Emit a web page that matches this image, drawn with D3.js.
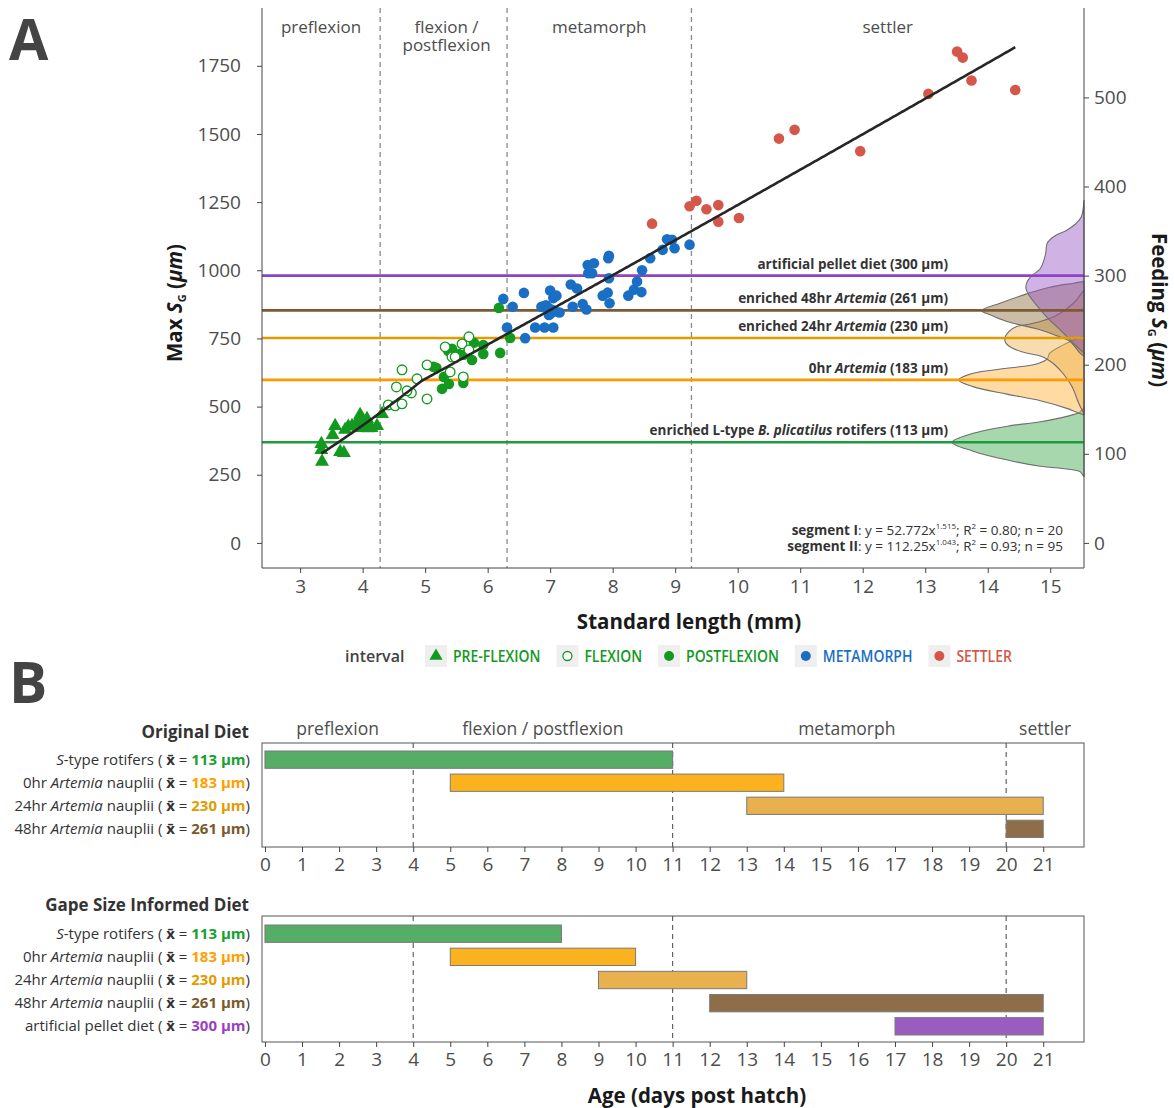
<!DOCTYPE html>
<html>
<head>
<meta charset="utf-8">
<script src="https://cdn.jsdelivr.net/npm/d3@7"></script>
<style>
  body { margin: 0; background: #fff; }
  svg { display: block; }
  text { font-family: "Open Sans", "Noto Sans", sans-serif; }
</style>
</head>
<body>
<svg id="fig" width="1174" height="1108"></svg>
<script>
// ---------------- Panel A: standard length (mm) vs. max gape size (µm) ----------------
const preflexion = [
  [3.34,363],[3.34,341],[3.35,298],[3.52,396],[3.56,429],[3.64,334],[3.70,330],[3.72,415],
  [3.77,427],[3.83,429],[3.90,440],[3.93,422],[3.96,470],[3.99,448],[4.02,429],[4.07,455],
  [4.09,421],[4.14,422],[4.23,429],[4.31,473]
];
const flexion = [
  [4.41,506],[4.52,503],[4.63,510],[4.54,572],[4.63,635],[4.78,550],[4.71,558],[4.87,602],
  [5.03,528],[5.03,653],[5.32,719],[5.40,627],[5.43,682],[5.48,682],[5.59,730],[5.70,756],
  [5.70,708],[5.61,609]
];
const postflexion = [
  [5.13,646],[5.18,642],[5.27,565],[5.30,609],[5.38,583],[5.61,587],[5.37,704],[5.43,712],
  [5.54,693],[5.62,690],[5.75,671],[5.78,734],[5.93,693],[5.93,726],[6.20,697],[6.18,862],
  [6.36,752]
];
const metamorph = [
  [6.25,895],[6.40,866],[6.58,917],[6.31,790],[6.60,751],[6.76,790],[6.91,790],[7.05,790],
  [6.86,866],[6.94,871],[7.00,926],[7.05,898],[7.10,907],[7.00,840],[7.08,849],[7.15,845],
  [6.92,871],[6.97,862],[7.03,855],[6.98,836],[7.33,948],[7.43,933],[7.36,866],[7.52,876],
  [7.58,856],[7.60,1019],[7.70,1026],[7.61,989],[7.67,989],[7.93,1044],[7.94,1053],[7.94,971],
  [7.84,907],[7.92,918],[7.95,879],[8.25,907],[8.34,929],[8.39,959],[8.46,920],[8.47,1000],
  [8.60,1044],[8.80,1075],[8.87,1114],[8.95,1112],[8.99,1081],[9.23,1094]
];
const settler = [
  [13.51,1802],[13.60,1780],[13.74,1696],[14.44,1661],[13.05,1647],[10.66,1483],[10.91,1515],
  [11.96,1437],[9.23,1235],[9.34,1255],[9.50,1224],[9.69,1239],[9.69,1178],[10.02,1192],[8.63,1171]
];

// Stage boundaries along standard length (mm) and their names
const stageBreaksMM = [4.28, 6.31, 9.26];
const stageNamesA = [["preflexion"], ["flexion /", "postflexion"], ["metamorph"], ["settler"]];

// Piecewise power-law fit: y = a * x^b
const fitA = [52.772, 112.25];
const fitB = [1.515, 1.043];
const fitRangeMM = [3.34, 14.44];

// Axis ticks
const xTicksA = d3.range(3, 16);
const yTicksA = [0, 250, 500, 750, 1000, 1250, 1500, 1750];
const yTicksR = [0, 100, 200, 300, 400, 500];
const feedToGape = 0.306;   // feeding gape = 0.306 * max gape

// Prey items (mean size, µm)
const feedMean = [113, 183, 230, 261, 300];
const feedLine = ["#1f9a3f", "#ff9900", "#e39b00", "#7d5a2f", "#8d43c2"];
const feedFill = ["#3aa64a", "#ffad33", "#eeb14e", "#8c6a3f", "#9a55c4"];
const feedBar  = ["#55ad66", "#fbb21e", "#e9b04f", "#8e6e48", "#9b5cc0"];
const feedText = ["#17a02f", "#ff9f00", "#e39b00", "#7a5a2c", "#9a3fc4"];

// Size distributions of each prey item: [size µm, relative density]
const ridgeRotifer = [[74,0],[80,0.03],[83,0.13],[86,0.33],[93,0.58],[103,0.84],[113,1.0],[123,0.84],[131,0.58],[136,0.33],[142,0.13],[147,0.03],[153,0]];
const ridgeArt0 = [[143.7,0],[146.7,0.055],[151,0.13],[159.6,0.33],[167,0.585],[175.4,0.84],[182.9,0.95],[190.4,0.84],[196,0.585],[200.9,0.36],[206.2,0.28],[212.9,0.26],[222,0.16],[228,0.07],[231.3,0]];
const ridgeArt24 = [[145,0],[156.7,0.04],[175.4,0.09],[190.4,0.16],[199.7,0.22],[205.3,0.27],[209.8,0.33],[212.8,0.43],[218.5,0.54],[224,0.59],[229.7,0.6],[237.2,0.57],[242.8,0.51],[246,0.4],[250,0.3],[256,0.2],[269,0.08],[284,0]];
const ridgeArt48 = [[209.5,0],[213,0.03],[226,0.106],[232.6,0.207],[239.3,0.333],[248.6,0.585],[256,0.71],[260.7,0.775],[269,0.636],[279.5,0.434],[287,0.26],[291.5,0.08],[293.4,0]];
const ridgePellet = [[213,0],[224,0.08],[239,0.18],[250,0.26],[261.5,0.33],[276.5,0.41],[285.8,0.44],[293.3,0.43],[300.6,0.39],[308,0.33],[325,0.29],[336,0.28],[343.6,0.23],[351,0.13],[358.5,0.06],[366,0.02],[385,0]];
const ridges = [ridgeRotifer, ridgeArt0, ridgeArt24, ridgeArt48, ridgePellet];

// ---------------- Panel B: feeding schedules (days post hatch) ----------------
const originalStart = [0, 5, 13, 20];
const originalEnd   = [11, 14, 21, 21];
const informedStart = [0, 5, 9, 12, 17];
const informedEnd   = [8, 10, 13, 21, 21];
const stageBreaksDay = [4, 11, 20];
const stageNamesB = ["preflexion", "flexion / postflexion", "metamorph", "settler"];
const stageLabelDay = [1.96, 7.5, 15.7, 21.05];
const xTicksB = d3.range(0, 22);

// ----------------------------------------------------------------------------------
const svg = d3.select("#fig");
const A = { left: 262, right: 1084, top: 8, bottom: 568 };

const xA = d3.scaleLinear().domain([2.39, 15.54]).range([A.left, A.right]);
const yA = d3.scaleLinear().domain([-92, 1962]).range([A.bottom, A.top]);
const yR = d3.scaleLinear().domain(yA.domain().map(v => v * feedToGape)).range([A.bottom, A.top]);
const ridgeW = d3.scaleLinear().domain([0, 1]).range([A.right, A.right - 132]);

function rich(sel, parts) {
  parts.forEach(p => {
    const t = sel.append("tspan").text(p.t);
    if (p.i) t.attr("font-style", "italic");
    if (p.b) t.attr("font-weight", 700);
    if (p.c) t.attr("fill", p.c);
    if (p.dy) t.attr("dy", p.dy);
    if (p.fs) t.attr("font-size", p.fs);
  });
  return sel;
}

// Panel letters
svg.append("text").attr("x", 9).attr("y", 60).attr("font-size", 57).attr("font-weight", 700)
  .attr("fill", "#444").text("A");
svg.append("text").attr("x", 9).attr("y", 703).attr("font-size", 57).attr("font-weight", 700)
  .attr("fill", "#444").text("B");

const gA = svg.append("g");

// Stage boundaries
gA.selectAll("line.stage").data(stageBreaksMM).join("line")
  .attr("x1", d => xA(d)).attr("x2", d => xA(d))
  .attr("y1", A.top).attr("y2", A.bottom)
  .attr("stroke", "#8a8a8a").attr("stroke-width", 1.3).attr("stroke-dasharray", "5,4");

const stageEdgesA = [xA.domain()[0], ...stageBreaksMM, xA.domain()[1]];
stageNamesA.forEach((lines, i) => {
  const cx = xA((stageEdgesA[i] + stageEdgesA[i + 1]) / 2) + (i === 1 ? 3 : 0);
  const t = gA.append("text").attr("text-anchor", "middle").attr("font-size", 17)
    .attr("fill", "#4d4d4d");
  lines.forEach((ln, j) => t.append("tspan").attr("x", cx).attr("y", 33 + j * 18).text(ln));
});

// Prey size distributions, drawn against the feeding-gape axis
const ridgeArea = d3.area()
  .y(d => yR(d[0]))
  .x0(A.right)
  .x1(d => ridgeW(d[1]))
  .curve(d3.curveCatmullRom);
gA.selectAll("path.ridge").data(ridges).join("path")
  .attr("d", ridgeArea)
  .attr("fill", (d, i) => feedFill[i]).attr("fill-opacity", 0.45)
  .attr("stroke", "#6e6e6e").attr("stroke-width", 1.1);

// Prey size reference lines
gA.selectAll("line.feed").data(feedMean).join("line")
  .attr("x1", A.left).attr("x2", A.right)
  .attr("y1", d => yR(d)).attr("y2", d => yR(d))
  .attr("stroke", (d, i) => feedLine[i]).attr("stroke-width", 2.6);

// Points by developmental interval
const green = "#13991f", blue = "#1a6fc4", red = "#d5574a";
const tri = d3.symbol().type(d3.symbolTriangle).size(85);
gA.append("g").selectAll("path").data(preflexion).join("path")
  .attr("d", tri).attr("transform", d => `translate(${xA(d[0])},${yA(d[1])})`)
  .attr("fill", green);
gA.append("g").selectAll("circle").data(postflexion).join("circle")
  .attr("cx", d => xA(d[0])).attr("cy", d => yA(d[1])).attr("r", 5.3).attr("fill", green);
gA.append("g").selectAll("circle").data(flexion).join("circle")
  .attr("cx", d => xA(d[0])).attr("cy", d => yA(d[1])).attr("r", 4.8)
  .attr("fill", "#fff").attr("stroke", green).attr("stroke-width", 1.3);
gA.append("g").selectAll("circle").data(metamorph).join("circle")
  .attr("cx", d => xA(d[0])).attr("cy", d => yA(d[1])).attr("r", 5.3).attr("fill", blue);
gA.append("g").selectAll("circle").data(settler).join("circle")
  .attr("cx", d => xA(d[0])).attr("cy", d => yA(d[1])).attr("r", 5.3).attr("fill", red);

// Segmented power-law fit (segments meet where both curves are equal)
const breakMM = Math.pow(fitA[1] / fitA[0], 1 / (fitB[0] - fitB[1]));
const fitPts = d3.range(fitRangeMM[0], fitRangeMM[1] + 1e-9, 0.02).concat([breakMM]).sort((a, b) => a - b)
  .map(x => [x, x <= breakMM ? fitA[0] * Math.pow(x, fitB[0]) : fitA[1] * Math.pow(x, fitB[1])]);
gA.append("path").datum(fitPts)
  .attr("d", d3.line().x(d => xA(d[0])).y(d => yA(d[1])))
  .attr("fill", "none").attr("stroke", "#262626").attr("stroke-width", 2.6);

// Prey labels
const feedLabelA = [
  [{ t: "enriched L-type " }, { t: "B. plicatilus", i: true }, { t: ` rotifers (${feedMean[0]} µm)` }],
  [{ t: "0hr " }, { t: "Artemia", i: true }, { t: ` (${feedMean[1]} µm)` }],
  [{ t: "enriched 24hr " }, { t: "Artemia", i: true }, { t: ` (${feedMean[2]} µm)` }],
  [{ t: "enriched 48hr " }, { t: "Artemia", i: true }, { t: ` (${feedMean[3]} µm)` }],
  [{ t: `artificial pellet diet (${feedMean[4]} µm)` }]
];
feedLabelA.forEach((parts, i) => {
  rich(gA.append("text").attr("x", 948).attr("y", yR(feedMean[i]) - 7)
    .attr("text-anchor", "end").attr("font-size", 13.5).attr("font-weight", 700).attr("fill", "#333"), parts);
});

// Fit equations
const eq = [
  [{ t: "segment I", b: true }, { t: `: y = ${fitA[0]}x` }, { t: String(fitB[0]), fs: 8, dy: -6 },
   { t: "; R", dy: 6 }, { t: "2", fs: 8, dy: -6 }, { t: " = 0.80; n = 20", dy: 6 }],
  [{ t: "segment II", b: true }, { t: `: y = ${fitA[1]}x` }, { t: String(fitB[1]), fs: 8, dy: -6 },
   { t: "; R", dy: 6 }, { t: "2", fs: 8, dy: -6 }, { t: " = 0.93; n = 95", dy: 6 }]
];
eq.forEach((parts, i) => {
  rich(gA.append("text").attr("x", 1063).attr("y", 535 + i * 16).attr("text-anchor", "end")
    .attr("font-size", 13.5).attr("fill", "#333"), parts);
});

// Axes
function styleAxis(g) {
  g.selectAll(".tick text").attr("font-size", 19).attr("fill", "#4d4d4d")
    .attr("font-family", '"Open Sans", sans-serif');
  g.selectAll(".tick line").attr("stroke", "#444");
  g.select(".domain").remove();
}
const plain = d3.format("d");
gA.append("g").attr("transform", `translate(0,${A.bottom})`)
  .call(d3.axisBottom(xA).tickValues(xTicksA).tickFormat(plain).tickSize(5).tickPadding(7)).call(styleAxis);
gA.append("g").attr("transform", `translate(${A.left},0)`)
  .call(d3.axisLeft(yA).tickValues(yTicksA).tickFormat(plain).tickSize(5).tickPadding(16)).call(styleAxis);
gA.append("g").attr("transform", `translate(${A.right},0)`)
  .call(d3.axisRight(yR).tickValues(yTicksR).tickFormat(plain).tickSize(5).tickPadding(5)).call(styleAxis);
[[A.left, A.top, A.left, A.bottom], [A.left, A.bottom, A.right, A.bottom], [A.right, A.top, A.right, A.bottom]]
  .forEach(c => gA.append("line").attr("x1", c[0]).attr("y1", c[1]).attr("x2", c[2]).attr("y2", c[3])
    .attr("stroke", "#444").attr("stroke-width", 1));

// Axis titles
gA.append("text").attr("x", (A.left + A.right) / 2 + 16).attr("y", 629).attr("text-anchor", "middle")
  .attr("font-size", 20.5).attr("font-weight", 700).attr("fill", "#1a1a1a").text("Standard length (mm)");
rich(gA.append("text").attr("transform", `translate(182,303) rotate(-90)`).attr("text-anchor", "middle")
  .attr("font-size", 20.5).attr("font-weight", 700).attr("fill", "#1a1a1a"),
  [{ t: "Max " }, { t: "S", i: true }, { t: "G", fs: 11, dy: 4 }, { t: " (", dy: -4 }, { t: "µm", i: true }, { t: ")" }]);
rich(gA.append("text").attr("transform", `translate(1152,310) rotate(90)`).attr("text-anchor", "middle")
  .attr("font-size", 20.5).attr("font-weight", 700).attr("fill", "#1a1a1a"),
  [{ t: "Feeding " }, { t: "S", i: true }, { t: "G", fs: 11, dy: 4 }, { t: " (", dy: -4 }, { t: "µm", i: true }, { t: ")" }]);

// Legend
const legendItems = [
  { label: "PRE-FLEXION", color: green, shape: "tri" },
  { label: "FLEXION", color: green, shape: "open" },
  { label: "POSTFLEXION", color: green, shape: "dot" },
  { label: "METAMORPH", color: blue, shape: "dot" },
  { label: "SETTLER", color: red, shape: "dot" }
];
const gL = svg.append("g");
gL.append("text").attr("x", 345).attr("y", 662).attr("font-size", 16).attr("font-weight", 600)
  .attr("fill", "#444").text("interval");
let lx = 425;
legendItems.forEach(it => {
  gL.append("rect").attr("x", lx).attr("y", 645).attr("width", 22).attr("height", 22).attr("fill", "#efefef");
  const cx = lx + 11, cy = 656;
  if (it.shape === "tri") gL.append("path").attr("d", d3.symbol().type(d3.symbolTriangle).size(75))
    .attr("transform", `translate(${cx},${cy})`).attr("fill", it.color);
  else if (it.shape === "open") gL.append("circle").attr("cx", cx).attr("cy", cy).attr("r", 4.5)
    .attr("fill", "#fff").attr("stroke", it.color).attr("stroke-width", 1.3);
  else gL.append("circle").attr("cx", cx).attr("cy", cy).attr("r", 5).attr("fill", it.color);
  const t = gL.append("text").attr("x", lx + 28).attr("y", 662).attr("font-size", 15.5)
    .attr("font-weight", 600).attr("fill", it.color).text(it.label);
  const w = t.node().getComputedTextLength() * 0.9;
  t.attr("textLength", w).attr("lengthAdjust", "spacingAndGlyphs");
  lx += 28 + w + 16;
});

// ---------------- Panel B ----------------
const xB = d3.scaleLinear().domain([-0.08, 22.1]).range([A.left, A.right]);

const feedNameB = [
  [{ t: "S", i: true }, { t: "-type rotifers" }],
  [{ t: "0hr " }, { t: "Artemia", i: true }, { t: " nauplii" }],
  [{ t: "24hr " }, { t: "Artemia", i: true }, { t: " nauplii" }],
  [{ t: "48hr " }, { t: "Artemia", i: true }, { t: " nauplii" }],
  [{ t: "artificial pellet diet" }]
];

function schedulePanel(cfg) {
  const g = svg.append("g");
  const n = cfg.start.length;
  const yB = d3.scaleBand().domain(d3.range(n)).range(cfg.barRange).paddingInner(0.25);

  g.append("text").attr("x", 249).attr("y", cfg.top - 5).attr("text-anchor", "end")
    .attr("font-size", 17).attr("font-weight", 700).attr("fill", "#333").text(cfg.title);

  g.selectAll("line.brk").data(stageBreaksDay).join("line")
    .attr("x1", d => xB(d)).attr("x2", d => xB(d)).attr("y1", cfg.top).attr("y2", cfg.bottom)
    .attr("stroke", "#555").attr("stroke-width", 1.1).attr("stroke-dasharray", "5,4");

  g.selectAll("rect.bar").data(d3.range(n)).join("rect")
    .attr("x", i => xB(cfg.start[i])).attr("width", i => xB(cfg.end[i]) - xB(cfg.start[i]))
    .attr("y", i => yB(i)).attr("height", yB.bandwidth())
    .attr("fill", i => feedBar[i]).attr("stroke", "#7a7a7a").attr("stroke-width", 1);

  d3.range(n).forEach(i => {
    const parts = feedNameB[i].concat([
      { t: " ( " }, { t: "x\u0304", b: true }, { t: " = " },
      { t: `${feedMean[i]} µm`, b: true, c: feedText[i] }, { t: ")" }
    ]);
    rich(g.append("text").attr("x", 250).attr("y", yB(i) + yB.bandwidth() / 2 + 5)
      .attr("text-anchor", "end").attr("font-size", 15).attr("fill", "#333"), parts);
  });

  g.append("rect").attr("x", A.left).attr("y", cfg.top).attr("width", A.right - A.left)
    .attr("height", cfg.bottom - cfg.top).attr("fill", "none").attr("stroke", "#555").attr("stroke-width", 1);

  g.append("g").attr("transform", `translate(0,${cfg.bottom})`)
    .call(d3.axisBottom(xB).tickValues(xTicksB).tickFormat(plain).tickSize(5).tickPadding(6)).call(styleAxis);
  return g;
}

const gB1 = schedulePanel({ title: "Original Diet", top: 743, bottom: 847, barRange: [751, 837.5],
  start: originalStart, end: originalEnd });
stageNamesB.forEach((s, i) => {
  gB1.append("text").attr("x", xB(stageLabelDay[i])).attr("y", 735).attr("text-anchor", "middle")
    .attr("font-size", 17.5).attr("fill", "#4d4d4d").text(s);
});
schedulePanel({ title: "Gape Size Informed Diet", top: 916, bottom: 1042, barRange: [925, 1035],
  start: informedStart, end: informedEnd });

svg.append("text").attr("x", 697).attr("y", 1103).attr("text-anchor", "middle")
  .attr("font-size", 20.5).attr("font-weight", 700).attr("fill", "#1a1a1a").text("Age (days post hatch)");
</script>
</body>
</html>
